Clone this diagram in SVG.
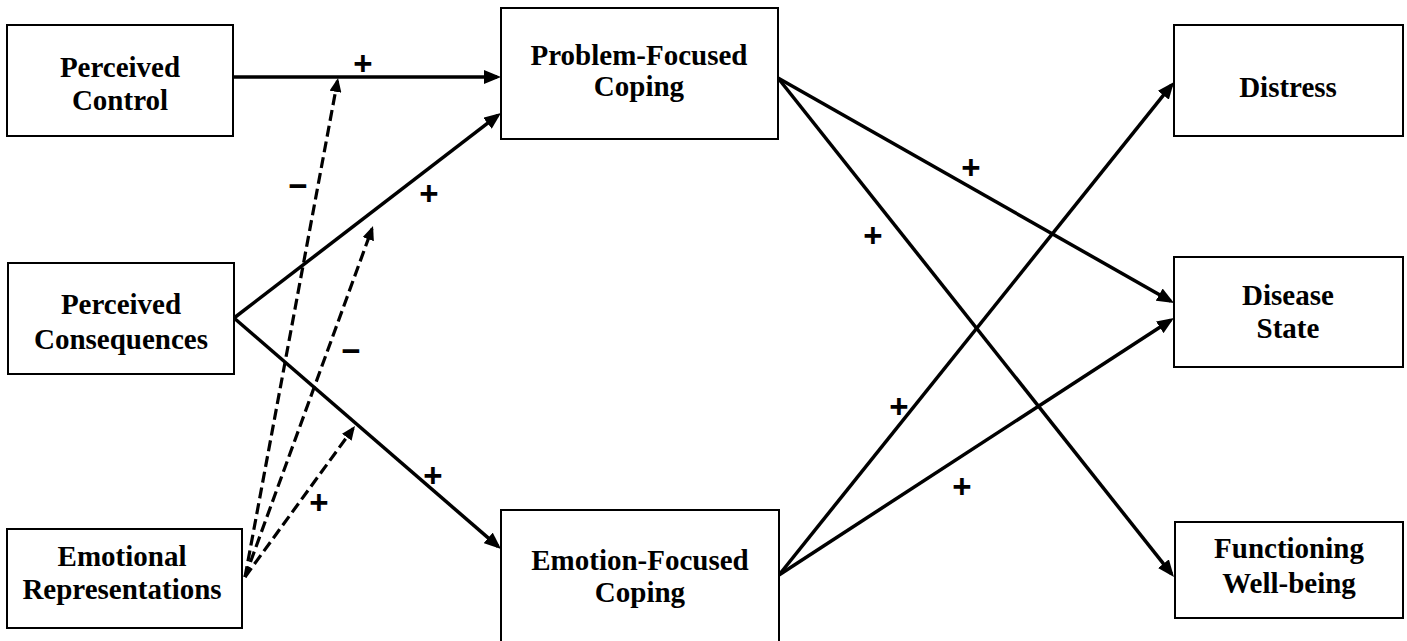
<svg xmlns="http://www.w3.org/2000/svg" width="1407" height="641" viewBox="0 0 1407 641">
<style>
.box{fill:#fff;stroke:#000;stroke-width:2}
.lbl{font-family:"Liberation Serif","Times New Roman",serif;font-weight:bold;font-size:29px;text-anchor:middle;fill:#000}
.sign{font-family:"Liberation Sans",Arial,sans-serif;font-weight:bold;font-size:33px;text-anchor:middle;fill:#000}
.solid{stroke:#000;stroke-width:3.5;fill:none}
.dash{stroke:#000;stroke-width:3.2;fill:none;stroke-dasharray:11 5}
</style>
<defs>
<marker id="ah" viewBox="0 0 17 14" refX="13" refY="7" markerWidth="17" markerHeight="14" markerUnits="userSpaceOnUse" orient="auto">
<path d="M0,0 L17,7 L0,14 z" fill="#000"/>
</marker>
<marker id="ahd" viewBox="0 0 14 12" refX="11" refY="6" markerWidth="14" markerHeight="12" markerUnits="userSpaceOnUse" orient="auto">
<path d="M0,0 L14,6 L0,12 z" fill="#000"/>
</marker>
</defs>
<rect width="1407" height="641" fill="#fff"/>

<g id="connectors">
<line class="solid" x1="233" y1="77" x2="497" y2="77" marker-end="url(#ah)"/>
<line class="solid" x1="234" y1="318" x2="497.8" y2="115.4" marker-end="url(#ah)"/>
<line class="solid" x1="234" y1="318" x2="498" y2="546.4" marker-end="url(#ah)"/>
<line class="solid" x1="778" y1="78" x2="1170.5" y2="301" marker-end="url(#ah)"/>
<line class="solid" x1="778" y1="78" x2="1171.5" y2="573.9" marker-end="url(#ah)"/>
<line class="solid" x1="779" y1="575" x2="1171.5" y2="85.1" marker-end="url(#ah)"/>
<line class="solid" x1="779" y1="575" x2="1170.6" y2="320.2" marker-end="url(#ah)"/>
<line class="dash" x1="245" y1="577" x2="337.5" y2="80.9" marker-end="url(#ahd)"/>
<line class="dash" x1="245" y1="577" x2="372" y2="228.8" marker-end="url(#ahd)"/>
<line class="dash" x1="245" y1="577" x2="353.2" y2="428.4" marker-end="url(#ahd)"/>
<text class="sign" x="363" y="75">+</text>
<text class="sign" x="298" y="197">−</text>
<text class="sign" x="429" y="205">+</text>
<text class="sign" x="351" y="362">−</text>
<text class="sign" x="433" y="487">+</text>
<text class="sign" x="319" y="514">+</text>
<text class="sign" x="971" y="179">+</text>
<text class="sign" x="873" y="247">+</text>
<text class="sign" x="899" y="418">+</text>
<text class="sign" x="962" y="498">+</text>
</g>

<g id="perceived-control">
<rect class="box" x="7" y="25" width="226" height="111"/>
<text class="lbl" x="120" y="77">Perceived</text>
<text class="lbl" x="120" y="110">Control</text>
</g>
<g id="perceived-consequences">
<rect class="box" x="8" y="263" width="226" height="111"/>
<text class="lbl" x="121" y="314">Perceived</text>
<text class="lbl" x="121" y="349">Consequences</text>
</g>
<g id="emotional-representations">
<rect class="box" x="7" y="529" width="235" height="99"/>
<text class="lbl" x="122" y="566">Emotional</text>
<text class="lbl" x="122" y="599">Representations</text>
</g>
<g id="problem-focused-coping">
<rect class="box" x="501" y="8" width="277" height="131"/>
<text class="lbl" x="639" y="65">Problem-Focused</text>
<text class="lbl" x="639" y="96">Coping</text>
</g>
<g id="emotion-focused-coping">
<rect class="box" x="501" y="510" width="278" height="140"/>
<text class="lbl" x="640" y="570">Emotion-Focused</text>
<text class="lbl" x="640" y="602">Coping</text>
</g>
<g id="distress">
<rect class="box" x="1174" y="25" width="229" height="111"/>
<text class="lbl" x="1288" y="97">Distress</text>
</g>
<g id="disease-state">
<rect class="box" x="1174" y="257" width="229" height="110"/>
<text class="lbl" x="1288" y="305">Disease</text>
<text class="lbl" x="1288" y="338">State</text>
</g>
<g id="functioning-well-being">
<rect class="box" x="1175" y="522" width="228" height="96"/>
<text class="lbl" x="1289" y="558">Functioning</text>
<text class="lbl" x="1289" y="593">Well-being</text>
</g>
</svg>
